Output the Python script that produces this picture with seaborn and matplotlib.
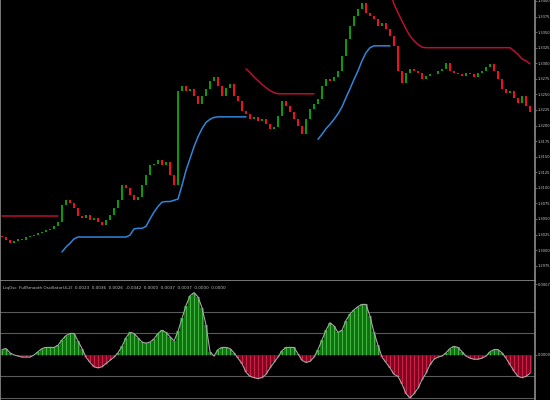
import numpy as np
import pandas as pd
import seaborn as sns
import matplotlib
matplotlib.use("Agg")
import matplotlib.pyplot as plt

nan = np.nan

# closing prices of each bar, in pips above 1.3000
closes = [21, 16, 11, 14, 18, 16, 21, 22, 24, 27,
          29, 32, 34, 38, 45, 72, 80, 75, 67, 54,
          51, 56, 48, 51, 45, 40, 48, 56, 67, 80,
          104, 99, 88, 80, 86, 104, 120, 136, 139, 144,
          136, 141, 120, 104, 256, 264, 256, 259, 248, 235,
          248, 259, 272, 278, 264, 248, 261, 267, 248, 240,
          224, 219, 211, 213, 208, 211, 202, 195, 198, 216,
          240, 232, 221, 211, 200, 187, 211, 227, 234, 243,
          264, 275, 272, 278, 288, 312, 339, 360, 376, 387,
          397, 381, 376, 371, 360, 365, 355, 344, 328, 288,
          269, 285, 291, 288, 285, 275, 280, 283, 282, 288,
          291, 301, 288, 285, 283, 280, 285, 282, 278, 285,
          288, 294, 299, 288, 275, 259, 253, 256, 245, 237,
          248, 232, 221]
first_open = 22

# trailing stop below price (blue), pips above 1.3000
lower_band = ([nan] * 15
              + [-3, 5, 11, 18] + [21] * 13
              + [24, 34, 35, 35, 38, 50, 61, 70, 77, 78, 78, 80, 82,
                 104, 128, 147, 166, 182, 195, 205, 210, 213]
              + [214] * 8
              + [nan] * 17
              + [178, 186, 195, 202, 210, 219, 230, 245, 259, 274,
                 288, 304, 317, 325, 328] + [328] * 4
              + [nan] * 35)

# trailing stop above price (red)
upper_band = ([54] * 15
              + [nan] * 46
              + [291, 285, 278, 272, 266, 261, 256, 253] + [251] * 10
              + [nan] * 18
              + [416, 395, 381, 368, 355, 344, 336, 330, 326, 325]
              + [325] * 21
              + [320, 314, 307, 304, 299])

# oscillator, units of 0.0001
osc = [5, 6, 2, 0, -1, -2, -2, -2, 0, 3,
       6, 7, 7, 7, 9, 14, 18, 20, 20, 13,
       6, -2, -7, -11, -12, -11, -8, -5, -2, 2,
       8, 16, 21, 20, 16, 12, 11, 12, 15, 20,
       23, 21, 17, 13, 22, 34, 46, 55, 58, 54,
       44, 28, 3, -1, 5, 7, 7, 6, 2, -3,
       -8, -16, -20, -21, -22, -21, -18, -12, -7, -2,
       4, 7, 7, 7, 1, -5, -7, -6, -2, 5,
       14, 23, 30, 27, 21, 23, 32, 38, 42, 45,
       47, 47, 36, 21, 9, -2, -7, -12, -18, -20,
       -27, -36, -40, -36, -31, -23, -17, -9, -4, -2,
       -1, 2, 6, 8, 7, 3, -1, -3, -4, -4,
       -3, -1, 3, 5, 5, 2, -3, -9, -15, -20,
       -21, -20, -17]

osc_levels = [40, 20, -20, -40]
price_ticks = [1.3400, 1.3375, 1.3350, 1.3325, 1.3300, 1.3275, 1.3250, 1.3225,
               1.3200, 1.3175, 1.3150, 1.3125, 1.3100, 1.3075, 1.3050, 1.3025,
               1.3000, 1.2975]
osc_label = ("LiqOsc  FullSmooth Oscillator(4,2)  0.0023  0.0036  0.0026  -0.0042  "
             "0.0000  0.0037  0.0037  0.0000  0.0000")

sns.set_style("dark", rc={"axes.facecolor": "black", "figure.facecolor": "black",
                          "axes.edgecolor": "#8c8c8c", "text.color": "#c8c8c8",
                          "ytick.color": "#c8c8c8", "axes.grid": False})

n = len(closes)
bars = np.arange(n)
pip = 0.0001
close_px = 1.3 + np.array(closes) * pip
open_px = 1.3 + np.array([first_open] + closes[:-1]) * pip

fig = plt.figure(figsize=(5.5, 4), dpi=100)
ax = fig.add_axes([0, 1 - 281 / 400, 535 / 550, 281 / 400])
ax2 = fig.add_axes([0, 0, 535 / 550, 119 / 400])

# candles
up = close_px >= open_px
body_low = np.minimum(open_px, close_px)
body_h = np.maximum(np.abs(close_px - open_px), 0.6 * pip)
ax.bar(bars[up], body_h[up], bottom=body_low[up], width=0.6, color="#0a9a0a", linewidth=0)
ax.bar(bars[~up], body_h[~up], bottom=body_low[~up], width=0.6, color="#f01020", linewidth=0)

# bands, broken into their segments
for vals, col in [(lower_band, "#2f86d8"), (upper_band, "#b8102e")]:
    band = pd.DataFrame({"bar": bars, "price": 1.3 + np.array(vals, dtype=float) * pip})
    band["seg"] = band["price"].isna().cumsum()
    band = band.dropna()
    sns.lineplot(data=band, x="bar", y="price", units="seg", estimator=None,
                 color=col, linewidth=1.1, ax=ax)

ax.set_xlim(-0.5, n + 0.25)
ax.set_ylim(1.29504, 1.34016)
ax.yaxis.tick_right()
ax.set_yticks(price_ticks)
ax.set_yticklabels([f"{t:.4f}" for t in price_ticks])
ax.set_xticks([])
ax.set_xlabel("")
ax.set_ylabel("")
ax.tick_params(axis="y", length=1.5, width=0.5, color="#8c8c8c", labelsize=2.6, pad=0.5)
ax.spines["top"].set_visible(False)
for s in ["left", "right", "bottom"]:
    ax.spines[s].set_color("#8c8c8c")
    ax.spines[s].set_linewidth(1.2)

# oscillator pane
osc_arr = np.array(osc, dtype=float)
pos = osc_arr >= 0
for lv in osc_levels:
    ax2.axhline(lv, color="#5a5a5a", linewidth=0.8, zorder=0)
ax2.bar(bars[pos], osc_arr[pos], width=1.0, color="#146e14", linewidth=0)
ax2.bar(bars[~pos], osc_arr[~pos], width=1.0, color="#7a0a22", linewidth=0)
ax2.vlines(bars[pos], 0, osc_arr[pos], color="#5ce65c", linewidth=0.45)
ax2.vlines(bars[~pos], 0, osc_arr[~pos], color="#ff3060", linewidth=0.45)
sns.lineplot(x=bars, y=osc_arr, color="#a8a8a8", linewidth=0.8, ax=ax2)

ax2.set_xlim(-0.5, n + 0.25)
ax2.set_ylim(-41.9, 68.8)
ax2.yaxis.tick_right()
ax2.set_yticks([66, 0])
ax2.set_yticklabels(["0.0067", "0.0000"])
ax2.set_xticks([])
ax2.tick_params(axis="y", length=1.5, width=0.5, color="#8c8c8c", labelsize=2.6, pad=0.5)
ax2.spines["top"].set_visible(False)
ax2.spines["bottom"].set_visible(False)
for s in ["left", "right"]:
    ax2.spines[s].set_color("#8c8c8c")
    ax2.spines[s].set_linewidth(1.2)
ax2.text(0.006, 0.96, osc_label, transform=ax2.transAxes, fontsize=3,
         color="#c0c0c0", va="top", ha="left")

fig.savefig("out.png", dpi=100, facecolor="black")
